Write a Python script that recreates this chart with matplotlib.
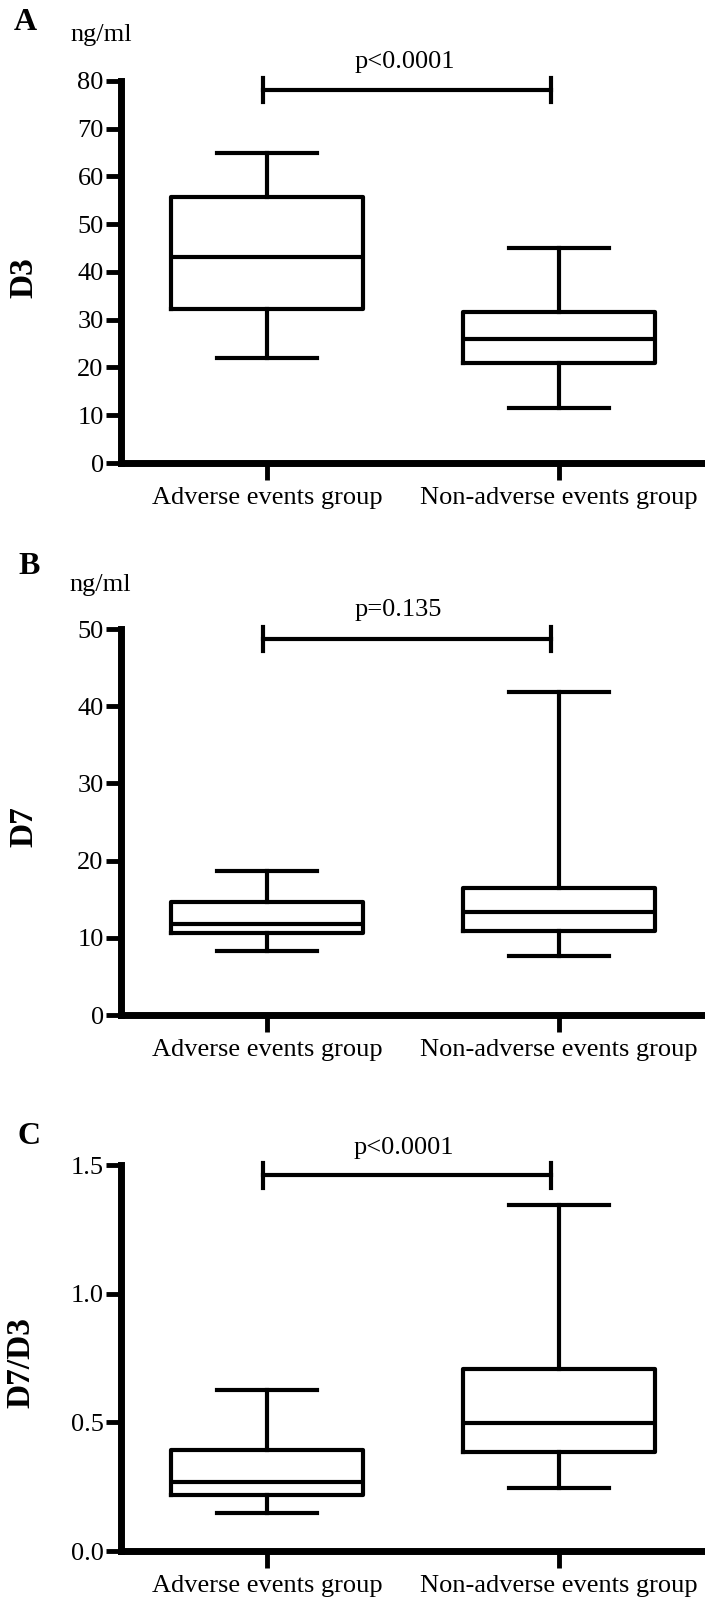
import matplotlib
matplotlib.use('Agg')
import matplotlib.pyplot as plt

plt.rcParams['font.family'] = ['Liberation Serif', 'DejaVu Serif']

groups = ['Adverse events group', 'Non-adverse events group']
# whislo, q1, median, q3, whishi
d3_adverse = [21.9, 32.3, 43.1, 55.8, 65.0]
d3_non = [11.6, 21.0, 26.0, 31.6, 45.0]
d7_adverse = [8.3, 10.6, 11.8, 14.7, 18.7]
d7_non = [7.7, 10.9, 13.3, 16.5, 41.8]
ratio_adverse = [0.146, 0.216, 0.269, 0.391, 0.624]
ratio_non = [0.246, 0.385, 0.497, 0.709, 1.346]

panels = [
    # letter, ylabel, unit, data, ymax, yticks, tick labels, p text, bracket y
    ('A', 'D3', 'ng/ml', [d3_adverse, d3_non], 80, [0, 10, 20, 30, 40, 50, 60, 70, 80],
     ['0', '10', '20', '30', '40', '50', '60', '70', '80'], 'p<0.0001', 78.1),
    ('B', 'D7', 'ng/ml', [d7_adverse, d7_non], 50, [0, 10, 20, 30, 40, 50],
     ['0', '10', '20', '30', '40', '50'], 'p=0.135', 48.7),
    ('C', 'D7/D3', '', [ratio_adverse, ratio_non], 1.5, [0.0, 0.5, 1.0, 1.5],
     ['0.0', '0.5', '1.0', '1.5'], 'p<0.0001', 1.46),
]

W, H = 705, 1600
fig = plt.figure(figsize=(W / 100, H / 100), dpi=100)

# axes boxes in pixels: top of y axis, zero line
axes_px = [(81, 463), (629, 1015), (1165, 1551)]
letter_px = [(25, 22), (29, 567), (29, 1137)]
unit_px = [(101, 35), (100, 585), None]
p_px = [(405, 62), (398, 610), (404, 1148)]
ylab_px = [(24, 278), (24, 827), (21, 1363)]

lw = 3.0
for i, (letter, ylab, unit, data, ymax, yt, ytl, ptxt, by) in enumerate(panels):
    top, zero = axes_px[i]
    ax = fig.add_axes([121 / W, 1 - zero / H, (W - 121) / W, (zero - top) / H])
    stats = []
    for d in data:
        stats.append({'whislo': d[0], 'q1': d[1], 'med': d[2], 'q3': d[3], 'whishi': d[4]})
    ax.bxp(stats, positions=[0, 1], widths=0.66, capwidths=0.34, showfliers=False,
           boxprops=dict(linewidth=lw, color='black'),
           medianprops=dict(linewidth=lw, color='black'),
           whiskerprops=dict(linewidth=lw, color='black'),
           capprops=dict(linewidth=lw, color='black'))
    ax.set_xlim(-0.5, 1.5)
    ax.set_ylim(0, ymax)
    ax.set_xticks([0, 1])
    ax.set_xticklabels(groups, fontsize=19)
    ax.set_yticks(yt)
    ax.set_yticklabels(ytl, fontsize=19)
    for s in ['top', 'right']:
        ax.spines[s].set_visible(False)
    for s in ['left', 'bottom']:
        ax.spines[s].set_linewidth(5)
    ax.tick_params(axis='y', length=11, width=3.5, pad=1.5)
    ax.tick_params(axis='x', length=12, width=3.5, pad=5)

    # significance bracket
    h = ymax * 0.032
    ax.plot([-0.015, 0.974], [by, by], color='black', lw=lw, clip_on=False)
    ax.plot([-0.015, -0.015], [by - h, by + h], color='black', lw=lw, clip_on=False)
    ax.plot([0.974, 0.974], [by - h, by + h], color='black', lw=lw, clip_on=False)

    fig.text(p_px[i][0] / W, 1 - p_px[i][1] / H, ptxt, fontsize=19, ha='center', va='center')
    fig.text(letter_px[i][0] / W, 1 - letter_px[i][1] / H, letter, fontsize=23,
             fontweight='bold', ha='center', va='center')
    if unit_px[i] is not None:
        fig.text(unit_px[i][0] / W, 1 - unit_px[i][1] / H, unit, fontsize=19,
                 ha='center', va='center')
    fig.text(ylab_px[i][0] / W, 1 - ylab_px[i][1] / H, ylab, fontsize=24,
             fontweight='bold', rotation=90, ha='center', va='center')

plt.savefig('out.png', dpi=100)
